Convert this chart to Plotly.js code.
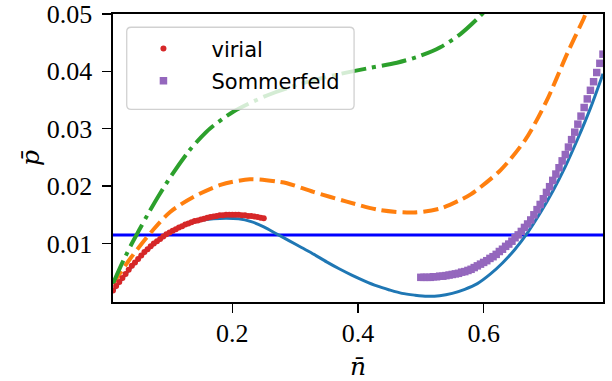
<!DOCTYPE html>
<html>
<head>
<meta charset="utf-8">
<script src="https://cdn.plot.ly/plotly-3.0.1.min.js"></script>
<style>html,body{margin:0;padding:0;background:#fff;}#chart{width:612px;height:381px;}</style>
</head>
<body>
<div id="chart"></div>
<script>
// ---- data ----
const nModel = [0.010,0.030,0.050,0.070,0.090,0.110,0.130,0.150,0.170,0.190,0.210,0.230,0.250,0.270,0.290,0.310,0.330,0.350,0.370,0.390,0.410,0.430,0.450,0.470,0.490,0.510,0.530,0.550,0.570,0.590,0.610,0.630,0.650,0.670,0.690,0.710,0.730,0.750,0.770,0.790];
const pModel = [0.0017,0.0046,0.0072,0.0094,0.0111,0.0124,0.0134,0.0140,0.0143,0.0144,0.0143,0.0138,0.0129,0.0117,0.0105,0.0093,0.0081,0.0068,0.0056,0.0045,0.0035,0.0026,0.0019,0.0013,0.0010,0.0008,0.0009,0.0013,0.0020,0.0030,0.0046,0.0066,0.0090,0.0119,0.0153,0.0191,0.0234,0.0283,0.0336,0.0396];

const nOrange = [0.010, 0.037, 0.074, 0.101, 0.138, 0.181, 0.228, 0.271, 0.287, 0.329, 0.382, 0.436, 0.489, 0.531, 0.563, 0.580, 0.627, 0.667, 0.700, 0.733, 0.760, 0.770];
const pOrange = [0.0030, 0.0073, 0.0124, 0.0155, 0.0181, 0.0202, 0.0212, 0.0208, 0.0205, 0.0190, 0.0173, 0.0158, 0.0154, 0.0161, 0.0176, 0.0186, 0.0228, 0.0282, 0.0348, 0.0431, 0.0494, 0.0520];

const nGreen = [0.010, 0.020, 0.030, 0.040, 0.053, 0.065, 0.082, 0.104, 0.130, 0.150, 0.165, 0.202, 0.255, 0.308, 0.361, 0.414, 0.462, 0.499, 0.531, 0.563, 0.595, 0.610];
const pGreen = [0.0030, 0.0055, 0.0078, 0.0100, 0.0126, 0.0150, 0.0182, 0.0220, 0.0260, 0.0285, 0.0301, 0.0330, 0.0358, 0.0378, 0.0393, 0.0405, 0.0415, 0.0427, 0.0442, 0.0465, 0.0497, 0.0515];

const nVirial = [0.010,0.015,0.020,0.025,0.030,0.035,0.040,0.045,0.050,0.055,0.060,0.065,0.070,0.075,0.080,0.085,0.090,0.095,0.100,0.105,0.110,0.115,0.120,0.125,0.130,0.135,0.140,0.145,0.150,0.155,0.160,0.165,0.170,0.175,0.180,0.185,0.190,0.195,0.200,0.205,0.210,0.215,0.220,0.225,0.230,0.235,0.240,0.245,0.250];
const pVirial = [0.0018,0.0026,0.0033,0.0040,0.0047,0.0054,0.0061,0.0067,0.0073,0.0079,0.0085,0.0090,0.0095,0.0100,0.0104,0.0108,0.0112,0.0116,0.0119,0.0122,0.0125,0.0128,0.0130,0.0133,0.0135,0.0137,0.0139,0.0140,0.0142,0.0143,0.0145,0.0146,0.0147,0.0148,0.0149,0.0149,0.0150,0.0150,0.0150,0.0150,0.0150,0.0149,0.0149,0.0148,0.0148,0.0147,0.0146,0.0145,0.0144];

const nSommerfeld = [0.500,0.505,0.510,0.515,0.520,0.525,0.530,0.535,0.540,0.545,0.550,0.555,0.560,0.565,0.570,0.575,0.580,0.585,0.590,0.595,0.600,0.605,0.610,0.615,0.620,0.625,0.630,0.635,0.640,0.645,0.650,0.655,0.660,0.665,0.670,0.675,0.680,0.685,0.690,0.695,0.700,0.705,0.710,0.715,0.720,0.725,0.730,0.735,0.740,0.745,0.750,0.755,0.760,0.765,0.770,0.775,0.780,0.785,0.790];
const pSommerfeld = [0.0041,0.0041,0.0041,0.0041,0.0042,0.0042,0.0043,0.0043,0.0044,0.0045,0.0046,0.0047,0.0048,0.0050,0.0051,0.0053,0.0055,0.0058,0.0061,0.0064,0.0067,0.0070,0.0074,0.0077,0.0081,0.0086,0.0090,0.0095,0.0099,0.0104,0.0110,0.0115,0.0121,0.0128,0.0134,0.0141,0.0150,0.0159,0.0168,0.0178,0.0189,0.0199,0.0210,0.0221,0.0232,0.0244,0.0255,0.0268,0.0281,0.0294,0.0308,0.0322,0.0337,0.0352,0.0367,0.0382,0.0398,0.0414,0.0430];

const pCoexist = 0.0115;

const xTickVals = [0.2, 0.4, 0.6];
const xTickText = ['0.2', '0.4', '0.6'];
const yTickVals = [0.01, 0.02, 0.03, 0.04, 0.05];
const yTickText = ['0.01', '0.02', '0.03', '0.04', '0.05'];

// ---- traces ----
const traces = [
  {x: nModel, y: pModel, mode: 'lines', line: {color: '#1f77b4', width: 3, shape: 'spline', smoothing: 0.8}, showlegend: false, hoverinfo: 'skip'},
  {x: nOrange, y: pOrange, mode: 'lines', line: {color: '#ff7f0e', width: 4, dash: '15px,6px', shape: 'spline', smoothing: 0.8}, showlegend: false, hoverinfo: 'skip'},
  {x: nGreen, y: pGreen, mode: 'lines', line: {color: '#2ca02c', width: 4, dash: '25px,6px,4px,6px', shape: 'spline', smoothing: 0.8}, showlegend: false, hoverinfo: 'skip'},
  {x: nVirial, y: pVirial, mode: 'markers', name: 'virial', legendgroup: 'a', marker: {color: '#d62728', size: 6, symbol: 'circle', line: {width: 0}}},
  {x: nSommerfeld, y: pSommerfeld, mode: 'markers', name: 'Sommerfeld', legendgroup: 'b', marker: {color: '#9467bd', size: 7.5, symbol: 'square', line: {width: 0}}}
];

// legend frame (rounded) in paper coordinates
const lx0 = 0.028, lx1 = 0.492, ly0 = 0.669, ly1 = 0.954, rx = 0.009, ry = 0.015;
const legendPath = `M ${lx0+rx},${ly0} L ${lx1-rx},${ly0} Q ${lx1},${ly0} ${lx1},${ly0+ry} L ${lx1},${ly1-ry} Q ${lx1},${ly1} ${lx1-rx},${ly1} L ${lx0+rx},${ly1} Q ${lx0},${ly1} ${lx0},${ly1-ry} L ${lx0},${ly0+ry} Q ${lx0},${ly0} ${lx0+rx},${ly0} Z`;

const serif = 'Liberation Serif';
const tickFont = {family: serif, size: 26, color: '#000'};
const titleFont = {family: 'DejaVu Serif', size: 25, color: '#000'};

const layout = {
  width: 612, height: 381,
  margin: {l: 113, r: 9, t: 14, b: 79, pad: 0},
  paper_bgcolor: '#fff', plot_bgcolor: '#fff',
  showlegend: true,
  legend: {x: 0.005, y: 0.95, xanchor: 'left', yanchor: 'top', bgcolor: 'rgba(0,0,0,0)', borderwidth: 0,
           font: {family: 'DejaVu Sans', size: 21, color: '#000'}, itemwidth: 86, tracegroupgap: 2},
  xaxis: {range: [0.01, 0.79], showgrid: false, zeroline: false, showline: true, mirror: true, linecolor: '#000', linewidth: 1.6,
          ticks: 'outside', ticklen: 9, tickwidth: 1.4, tickcolor: '#000', tickvals: xTickVals, ticktext: xTickText,
          tickfont: tickFont, ticklabelstandoff: -2,
          title: {text: '<i>n̄</i>', font: titleFont, standoff: 20}},
  yaxis: {range: [-0.0002, 0.05], showgrid: false, zeroline: false, showline: true, mirror: true, linecolor: '#000', linewidth: 1.6,
          ticks: 'outside', ticklen: 9, tickwidth: 1.4, tickcolor: '#000', tickvals: yTickVals, ticktext: yTickText,
          tickfont: tickFont, ticklabelstandoff: 5,
          title: {text: '<i>p̄</i>', font: titleFont, standoff: 0}},
  shapes: [
    {type: 'line', xref: 'paper', x0: 0, x1: 1, yref: 'y', y0: pCoexist, y1: pCoexist, line: {color: '#0000ff', width: 3}, layer: 'below'},
    {type: 'path', xref: 'paper', yref: 'paper', path: legendPath, fillcolor: 'rgba(255,255,255,0.8)', line: {color: 'rgba(204,204,204,0.9)', width: 1.3}, layer: 'above'}
  ]
};

Plotly.newPlot('chart', traces, layout, {staticPlot: true, displayModeBar: false});
</script>
</body>
</html>
